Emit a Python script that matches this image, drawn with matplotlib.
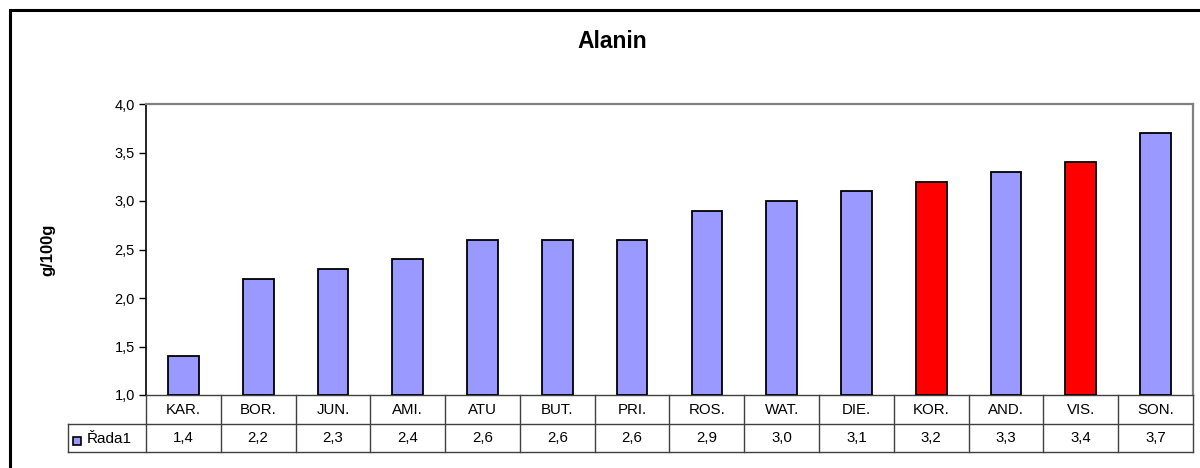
import matplotlib
matplotlib.use("Agg")
import matplotlib.pyplot as plt
from matplotlib.patches import Rectangle
from matplotlib.lines import Line2D

categories = ["KAR.", "BOR.", "JUN.", "AMI.", "ATU", "BUT.", "PRI.", "ROS.",
              "WAT.", "DIE.", "KOR.", "AND.", "VIS.", "SON."]
values = [1.4, 2.2, 2.3, 2.4, 2.6, 2.6, 2.6, 2.9, 3.0, 3.1, 3.2, 3.3, 3.4, 3.7]
highlight = ["KOR.", "VIS."]
series_name = "Řada1"
title = "Alanin"
ylabel = "g/100g"
yticks = [1.0, 1.5, 2.0, 2.5, 3.0, 3.5, 4.0]

plt.rcParams['font.family'] = ['Liberation Sans', 'DejaVu Sans']

W, H = 1200, 468
fig = plt.figure(figsize=(W / 100, H / 100), dpi=100)

# plot area in pixels
L, R, T, B = 146, 1193, 104, 395
ax = fig.add_axes([L / W, 1 - B / H, (R - L) / W, (B - T) / H])

base_color = "#9999FF"
hi_color = "#FF0000"
colors = [hi_color if c in highlight else base_color for c in categories]
x = list(range(len(categories)))
ax.bar(x, [v - 1.0 for v in values], bottom=1.0, width=0.41, color=colors,
       edgecolor="black", linewidth=1.3, zorder=3)

ax.set_xlim(-0.5, len(categories) - 0.5)
ax.set_ylim(1.0, 4.0)
ax.set_yticks(yticks)
ax.set_yticklabels([f"{t:.1f}".replace(".", ",") for t in yticks], fontsize=10.5)
ax.set_xticks([])
ax.tick_params(axis="y", direction="out", length=5, width=1, color="black", pad=3)
ax.spines["left"].set_color("black")
ax.spines["left"].set_linewidth(1.2)
for s in ["top", "right"]:
    ax.spines[s].set_color("#808080")
    ax.spines[s].set_linewidth(1.6)
ax.spines["bottom"].set_color("#404040")
ax.spines["bottom"].set_linewidth(1.0)

# data table below the axes
ph = B - T
pw = R - L
r1 = -(424 - B) / ph
r2 = -(452 - B) / ph
leg_left = -(L - 68) / pw
trans = ax.get_xaxis_transform()
lc = "#404040"
lw = 1.0
ax.add_line(Line2D([-0.5, len(categories) - 0.5], [r1, r1], transform=trans,
                   color=lc, lw=lw, clip_on=False))
ax.add_line(Line2D([leg_left, 1.0], [r2, r2], transform=ax.transAxes,
                   color=lc, lw=lw, clip_on=False))
ax.add_line(Line2D([leg_left, 0.0], [r1, r1], transform=ax.transAxes,
                   color=lc, lw=lw, clip_on=False))
ax.add_line(Line2D([leg_left, leg_left], [r1, r2], transform=ax.transAxes,
                   color=lc, lw=lw, clip_on=False))
for i in range(len(categories) + 1):
    xv = i - 0.5
    ax.add_line(Line2D([xv, xv], [0, r2], transform=trans,
                       color=lc, lw=lw, clip_on=False))
for i, (c, v) in enumerate(zip(categories, values)):
    ax.text(i, r1 / 2, c, transform=trans, ha="center", va="center",
            fontsize=10.8, clip_on=False)
    ax.text(i, (r1 + r2) / 2, f"{v:.1f}".replace(".", ","), transform=trans,
            ha="center", va="center", fontsize=10.8, clip_on=False)

# legend key in table
fig.patches.append(Rectangle((73 / W, 1 - 445 / H), 8 / W, 8 / H,
                             transform=fig.transFigure, facecolor=base_color,
                             edgecolor="black", linewidth=1.2))
fig.text(87 / W, 1 - 439 / H, series_name, ha="left", va="center", fontsize=11)

fig.text(612 / W, 1 - 41 / H, title, ha="center", va="center",
         fontsize=16.5, fontweight="bold")
fig.text(48 / W, 1 - 250 / H, ylabel, ha="center", va="center",
         fontsize=12, fontweight="bold", rotation=90)

# outer chart frame
fig.patches.append(Rectangle((10 / W, -0.05), 1.05, 1 - 10 / H + 0.05,
                             transform=fig.transFigure, facecolor="none",
                             edgecolor="black", linewidth=2.2))

fig.savefig("out.png", dpi=100, facecolor="white")
